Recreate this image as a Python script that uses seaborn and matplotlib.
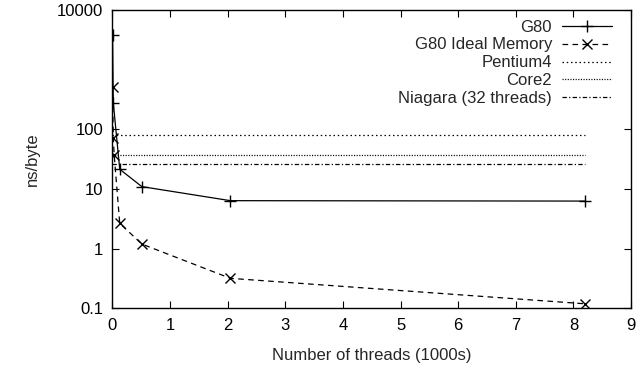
import numpy as np
import pandas as pd
import seaborn as sns
import matplotlib
matplotlib.use("Agg")
import matplotlib.pyplot as plt
from matplotlib.ticker import FixedLocator, FixedFormatter, NullLocator

# ---- data (x in thousands of threads, y in ns/byte) ----
g80_x = [0.004, 0.016, 0.128, 0.512, 2.048, 8.192]
g80_y = [3800, 280, 21.5, 11.0, 6.4, 6.3]

ideal_x = [0.004, 0.016, 0.032, 0.128, 0.512, 2.048, 8.192]
ideal_y = [520, 71, 37, 2.67, 1.2, 0.32, 0.12]

ref_x = [0.0, 8.192]
pentium4_y = [80.5, 80.5]
core2_y = [36.6, 36.6]
niagara_y = [26.1, 26.1]

xticks = [0, 1, 2, 3, 4, 5, 6, 7, 8, 9]
yticks = [0.1, 1, 10, 100, 10000]
ytick_labels = ["0.1", "1", "10", "100", "10000"]

sns.set_style("ticks")
plt.rcParams["font.family"] = ["Liberation Sans", "DejaVu Sans"]
FS = 12
plt.rcParams["font.size"] = FS

fig = plt.figure(figsize=(6.42, 3.71), dpi=100)
ax = fig.add_axes([0.175, 0.1685, 0.808, 0.8045])

lw = 0.9
mk = dict(markeredgecolor="black", markerfacecolor="none", markeredgewidth=1.0)
sns.lineplot(x=g80_x, y=g80_y, ax=ax, color="black", lw=lw, marker="+",
             markersize=9, label="G80", sort=False, **mk)
sns.lineplot(x=ideal_x, y=ideal_y, ax=ax, color="black", lw=lw, marker="x",
             markersize=7.5, linestyle=(0, (4.5, 3.5)),
             label="G80 Ideal Memory", sort=False, **mk)
sns.lineplot(x=ref_x, y=pentium4_y, ax=ax, color="black", lw=lw,
             linestyle=(0, (1.2, 2.2)), label="Pentium4")
sns.lineplot(x=ref_x, y=core2_y, ax=ax, color="black", lw=lw,
             linestyle=(0, (0.9, 1.2)), label="Core2")
sns.lineplot(x=ref_x, y=niagara_y, ax=ax, color="black", lw=lw,
             linestyle=(0, (3.5, 1.8, 1.0, 1.8)), label="Niagara (32 threads)")

ax.set_yscale("log")
ax.set_xlim(0, 9)
ax.set_ylim(0.1, 10000)
ax.xaxis.set_major_locator(FixedLocator(xticks))
ax.yaxis.set_major_locator(FixedLocator(yticks))
ax.yaxis.set_major_formatter(FixedFormatter(ytick_labels))
ax.yaxis.set_minor_locator(NullLocator())
ax.xaxis.set_minor_locator(NullLocator())
ax.tick_params(direction="in", length=5, width=0.8, top=True, right=True,
               labelsize=FS, colors="black")
ax.tick_params(axis="y", pad=6.5)
ax.tick_params(axis="x", pad=7)

for s in ax.spines.values():
    s.set_visible(True)
    s.set_linewidth(1.0)
    s.set_color("black")

ax.set_xlabel("Number of threads (1000s)", fontsize=FS, labelpad=11)
ax.set_ylabel("ns/byte", fontsize=FS, labelpad=12)

leg = ax.legend(loc="upper right", bbox_to_anchor=(0.9634, 0.968),
                markerfirst=False, frameon=False, handlelength=3.0,
                handletextpad=0.6, labelspacing=0.175, borderpad=0,
                borderaxespad=0, fontsize=FS)

fig.savefig("out.png", dpi=100)
